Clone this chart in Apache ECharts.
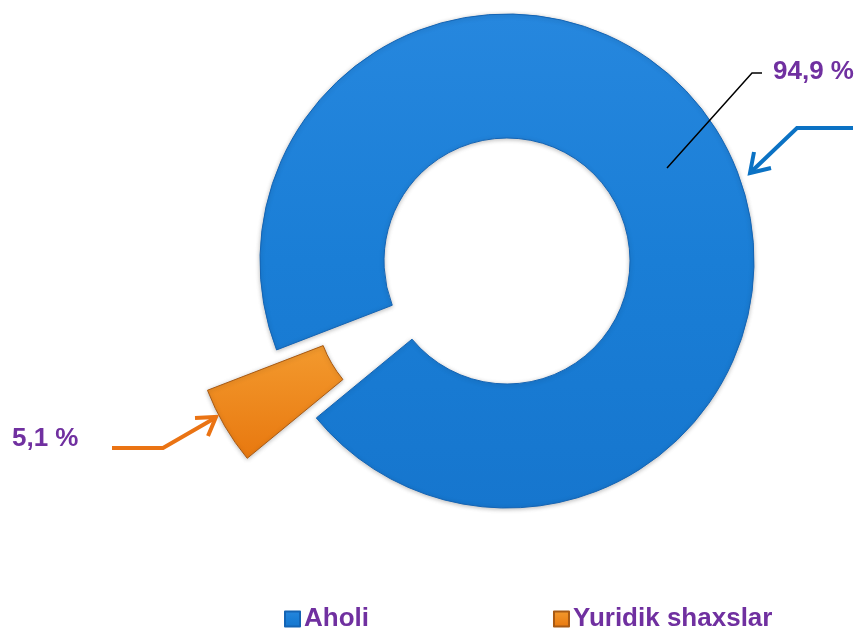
<!DOCTYPE html>
<html>
<head>
<meta charset="utf-8">
<script src="https://cdn.jsdelivr.net/npm/echarts@6/dist/echarts.min.js"></script>
<style>
html,body{margin:0;padding:0;background:#fff;}
#chart{width:856px;height:630px;}
</style>
</head>
<body>
<div id="chart"></div>
<script>
var categories = ['Aholi', 'Yuridik shaxslar'];
var values = [94.9, 5.1];

var FONT = 'Arial, "Liberation Sans", sans-serif';
var PURPLE = '#7030A0';

var blueFill = new echarts.graphic.LinearGradient(0, 0, 0, 1, [
  {offset: 0, color: '#2687DE'},
  {offset: 0.5, color: '#1A7ED6'},
  {offset: 1, color: '#1676CE'}
]);
var orangeFill = new echarts.graphic.LinearGradient(0, 0, 0, 1, [
  {offset: 0, color: '#F39A2E'},
  {offset: 1, color: '#E8780F'}
]);
var fills = [blueFill, orangeFill];
var borders = ['#1464B4', '#A85A14'];

function fmt(v) { return String(v).replace('.', ',') + ' %'; }

var chart = echarts.init(document.getElementById('chart'));
chart.setOption({
  animation: false,
  backgroundColor: '#ffffff',
  legend: {
    left: 284,
    top: 606,
    padding: 0,
    itemWidth: 15,
    itemHeight: 15,
    itemGap: 184,
    icon: 'rect',
    selectedMode: false,
    data: categories,
    textStyle: {color: PURPLE, fontSize: 26, fontWeight: 'bold', fontFamily: FONT, padding: [0, 0, 0, -1]}
  },
  series: [{
    type: 'pie',
    center: [507, 261],
    radius: [123, 247],
    startAngle: 201.1,
    clockwise: true,
    selectedMode: 'single',
    selectedOffset: 80,
    emphasis: {disabled: true},
    label: {show: false},
    labelLine: {show: false},
    data: categories.map(function (name, i) {
      return {
        name: name,
        value: values[i],
        selected: i === 1,
        itemStyle: {
          color: fills[i],
          borderColor: borders[i],
          borderWidth: 1,
          shadowBlur: 4,
          shadowColor: 'rgba(0,0,0,0.25)',
          shadowOffsetY: 1
        }
      };
    })
  }],
  graphic: [
    {
      type: 'polyline', z: 100,
      shape: {points: [[667, 168], [752, 73], [762, 73]]},
      style: {stroke: '#000', lineWidth: 1.5, fill: null}
    },
    {
      type: 'text', z: 100, left: 773, top: 59,
      style: {text: fmt(values[0]), fill: PURPLE, font: 'bold 26px ' + FONT}
    },
    {
      type: 'text', z: 100, left: 12, top: 426,
      style: {text: fmt(values[1]), fill: PURPLE, font: 'bold 26px ' + FONT}
    },
    {
      type: 'polyline', z: 100,
      shape: {points: [[853, 128], [797, 128], [751, 172]]},
      style: {stroke: '#0B72C4', lineWidth: 4, fill: null}
    },
    {
      type: 'polyline', z: 100,
      shape: {points: [[754, 152], [750, 173], [771, 168]]},
      style: {stroke: '#0B72C4', lineWidth: 4, fill: null, lineJoin: 'miter'}
    },
    {
      type: 'polyline', z: 100,
      shape: {points: [[112, 448], [163, 448], [215, 418]]},
      style: {stroke: '#EA7313', lineWidth: 4, fill: null}
    },
    {
      type: 'polyline', z: 100,
      shape: {points: [[195, 418], [216, 417], [208, 436]]},
      style: {stroke: '#EA7313', lineWidth: 4, fill: null, lineJoin: 'miter'}
    }
  ]
});
</script>
</body>
</html>
